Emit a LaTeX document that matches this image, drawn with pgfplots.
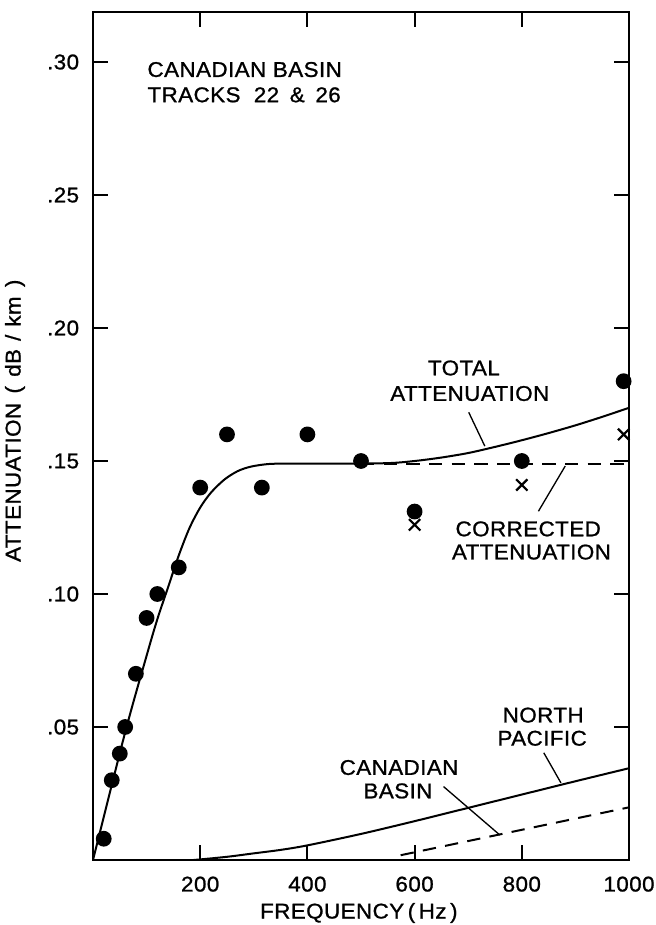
\documentclass[border=0pt]{standalone}
\usepackage{fontspec}
\setmainfont{Liberation Sans}[FakeStretch=1.05, LetterSpace=2, FakeBold=1]
\usepackage{pgfplots}
\pgfplotsset{compat=1.18}
\begin{document}
\begin{tikzpicture}
\begin{axis}[scale only axis, width=402pt, height=636pt,
  xmin=0, xmax=1000, ymin=0, ymax=0.3188,
  every axis/.append style={line width=2.2pt},
  axis line style={line width=2.2pt},
  tick style={line width=1.5pt, black},
  major tick length=11pt,
  tick align=inside,
  xtick={200,400,600,800,1000}, xticklabels={200,400,600,800,1000},
  ytick={0.05,0.10,0.15,0.20,0.25,0.30}, yticklabels={.05,.10,.15,.20,.25,.30},
  /pgf/number format/assume math mode=true,
  tick label style={font=\fontsize{16}{18}\selectfont},
  xticklabel style={yshift=-8pt},
  yticklabel style={xshift=-6pt},
  xlabel={FREQUENCY\,(\,Hz\,)},
  ylabel={ATTENUATION\hspace{7pt}(\hspace{7pt}dB\hspace{6pt}/\hspace{6pt}km\hspace{7pt})},
  label style={font=\fontsize{16}{18}\selectfont},
  xlabel style={at={(rel axis cs:0.496,-0.0625)}, anchor=center},
  ylabel style={at={(rel axis cs:-0.1455,0.518)}, anchor=center},
  clip=false
]
\coordinate (sw) at (rel axis cs:0,0);
\coordinate (ne) at (rel axis cs:1,1);
% total attenuation
\addplot[line width=1.5pt, smooth, tension=0.5] coordinates {
(0,0) (60,0.048) (100,0.0768) (120,0.0905) (140,0.1025) (160,0.1145) (180,0.1248)
(200,0.1325) (220,0.1381) (245,0.1430) (270,0.1462) (295,0.1479) (330,0.1489)
(380,0.149) (450,0.149) (550,0.1492) (600,0.1500) (650,0.1513) (700,0.1530)
(750,0.1553) (800,0.1578) (850,0.1605) (900,0.1634) (950,0.1666) (1000,0.170)};
% corrected attenuation
\addplot[line width=1.5pt, dash pattern=on 10pt off 7pt] coordinates {(500,0.149) (1000,0.149)};
% north pacific
\addplot[line width=1.5pt, smooth] coordinates {
(188,0.0) (250,0.0012) (300,0.0025) (350,0.0038) (400,0.0055) (500,0.0098)
(600,0.0146) (700,0.0196) (800,0.0246) (900,0.0296) (1000,0.0345)};
% canadian basin
\addplot[line width=1.5pt, dash pattern=on 10pt off 7pt] coordinates {(574,0.0018) (1000,0.0198)};
% measured
\addplot[only marks, mark=*, mark size=4.8pt, black] coordinates {
(20,0.008) (35,0.030) (50,0.040) (60,0.050) (80,0.070) (100,0.091)
(120,0.100) (160,0.110) (200,0.140) (250,0.160) (315,0.140) (400,0.160)
(500,0.150) (600,0.131) (800,0.150) (990,0.180)};
% corrected points
\addplot[only marks, mark=x, mark size=6pt, black, mark options={line width=1.6pt}] coordinates {
(600,0.126) (800,0.141) (990,0.160)};
% annotations
\begin{scope}[every node/.style={font=\fontsize{16}{18}\selectfont, inner sep=0pt}]
\node[anchor=base west] at (axis cs:99,0.2944) {CANADIAN BASIN};
\node[anchor=base west] at (axis cs:99,0.2849) {TRACKS\hspace{10pt}22\hspace{8pt}\&\hspace{8pt}26};
\node[anchor=base] at (axis cs:692,0.1822) {TOTAL};
\node[anchor=base] at (axis cs:703,0.1726) {ATTENUATION};
\node[anchor=base] at (axis cs:812,0.1217) {CORRECTED};
\node[anchor=base] at (axis cs:818,0.1130) {ATTENUATION};
\node[anchor=base] at (axis cs:840,0.0517) {NORTH};
\node[anchor=base] at (axis cs:838,0.0430) {PACIFIC};
\node[anchor=base] at (axis cs:571,0.0320) {CANADIAN};
\node[anchor=base] at (axis cs:569,0.0232) {BASIN};
\end{scope}
\draw[line width=1pt] (axis cs:701,0.1683) -- (axis cs:731,0.1556);
\draw[line width=1pt] (axis cs:831,0.1311) -- (axis cs:881,0.1481);
\draw[line width=1pt] (axis cs:841,0.0403) -- (axis cs:873,0.0290);
\draw[line width=1pt] (axis cs:654,0.0276) -- (axis cs:759,0.0094);
\end{axis}
\pgfresetboundingbox
\path[use as bounding box] ([shift={(-69.75pt,-48.75pt)}]sw) rectangle ([shift={(20.25pt,9pt)}]ne);
\end{tikzpicture}
\end{document}
